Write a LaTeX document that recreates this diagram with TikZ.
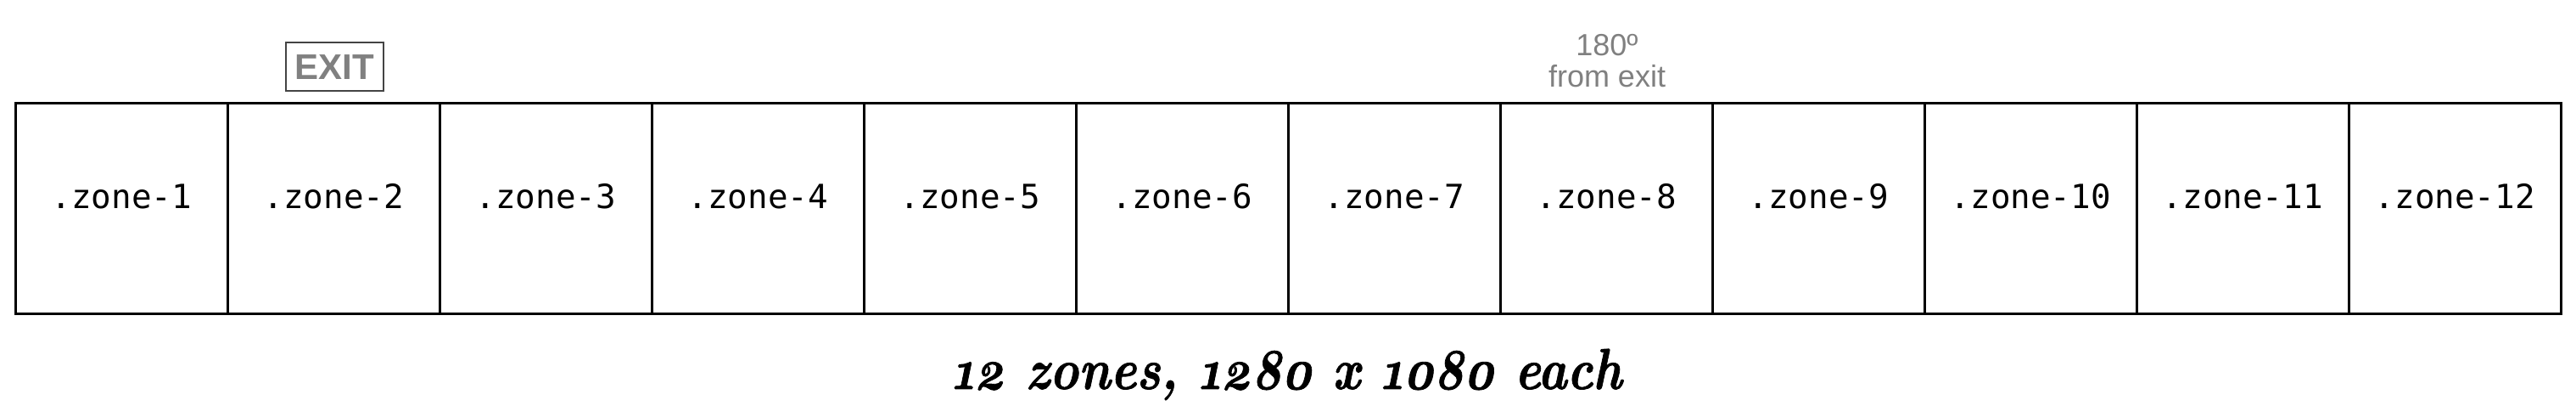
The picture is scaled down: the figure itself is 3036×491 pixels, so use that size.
\documentclass[tikz,border=0pt]{standalone}
\usepackage{fontspec}
\usepackage{graphicx}
\newfontfamily\monofnt{DejaVu Sans Mono}
\newfontfamily\arialfnt{Liberation Sans}
\newfontfamily\capfnt{lmroman10-bolditalic}[Extension=.otf, Numbers=OldStyle, FakeBold=1.2]
\definecolor{labelgray}{HTML}{808080}
\definecolor{boxgray}{HTML}{444444}
\tikzset{
  zonebox/.style={draw=black, line width=0.65pt, minimum width=62.5pt, minimum height=62pt, inner sep=0pt, anchor=north west},
  zonelabel/.style={anchor=base, inner sep=0pt, font=\monofnt\fontsize{9.8pt}{11pt}\selectfont},
  exitbox/.style={draw=boxgray, line width=0.5pt, minimum width=28.75pt, minimum height=14.25pt, inner sep=0pt, text height=7.5pt, text depth=0pt, text=labelgray, font=\arialfnt\bfseries\fontsize{10.5pt}{12pt}\selectfont},
  graylabel/.style={anchor=base, inner sep=0pt, text=labelgray, font=\arialfnt\fontsize{9pt}{10pt}\selectfont},
  captionstyle/.style={anchor=base, inner sep=0pt, font=\capfnt\fontsize{17pt}{20pt}\selectfont}
}
\begin{document}
\begin{tikzpicture}[x=0.25pt, y=-0.25pt]
\useasboundingbox (0,0) rectangle (3036,491);
\foreach \i in {1,...,12}{
  \node[zonebox] (z\i) at ({17+250*(\i-1)},120) {};
  \node[zonelabel] (l\i) at (z\i.center) {.zone-\i};
}
\node[exitbox] (exit) at (394.5,78.5) {EXIT};
\node[graylabel] (deg) at (1894,66) {180º};
\node[graylabel] (fromexit) at (1894,103) {from exit};
\node[captionstyle] (caption) at (1516.5,458) {\scalebox{0.85}[1]{12 zones, 1280 x 1080 each}};
\end{tikzpicture}
\end{document}
